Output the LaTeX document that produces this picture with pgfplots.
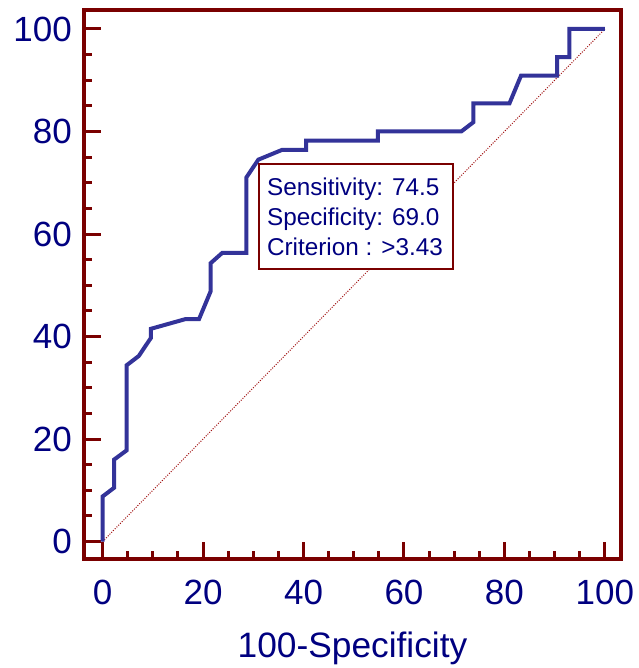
\documentclass[border=0pt]{standalone}
\usepackage{pgfplots}
\pgfplotsset{compat=1.18}
\usepackage{fontspec}
\setmainfont{Liberation Sans}
\definecolor{axred}{HTML}{7A0000}
\definecolor{dotred}{HTML}{A01010}
\definecolor{curveblue}{HTML}{333399}
\definecolor{navytext}{HTML}{000080}
\begin{document}
\begin{tikzpicture}
\begin{axis}[
  at={(0,0)}, anchor=south west,
  scale only axis, width=537pt, height=549pt,
  xmin=-3.7, xmax=103.2, ymin=-3.4, ymax=103.7,
  xtick={0,20,...,100}, ytick={0,20,...,100},
  minor tick num=3,
  tick pos=left, tick align=inside,
  major tick length=17pt, minor tick length=8pt,
  axis line style={axred, line width=4pt},
  tick style={axred, line width=3pt},
  /pgf/number format/assume math mode=true,
  ticklabel style={font=\fontsize{35}{40}\selectfont, text=navytext, inner sep=0pt},
  xticklabel style={anchor=north, yshift=-21pt},
  yticklabel style={anchor=east, xshift=-12pt},
  xlabel={100-Specificity},
  every axis x label/.style={at={(axis description cs:0.5,0)}, anchor=north,
    inner sep=0pt, yshift=-73pt, font=\fontsize{35.3}{40}\selectfont, text=navytext},
  clip=false,
]
\addplot[dotred, dash pattern=on 1pt off 1.5pt, line width=1pt] coordinates {(0,0) (100,100)};
\addplot[curveblue, line width=4pt] coordinates {
(0,0) (0,8.8) (2.3,10.5) (2.3,16.0) (4.8,17.8) (4.8,34.4) (7.2,36.2)
(9.6,39.7) (9.6,41.5) (16.5,43.4) (19.2,43.4) (21.5,48.8) (21.5,54.3)
(23.8,56.3) (28.6,56.3) (28.6,71.0) (31.0,74.5) (35.7,76.4) (40.5,76.4)
(40.5,78.2) (54.8,78.2) (54.8,80.0) (71.4,80.0) (73.8,81.8) (73.8,85.5)
(81.0,85.5) (83.3,90.9) (90.5,90.9) (90.5,94.5) (92.9,94.5) (92.9,100)
(100,100)
};
\node[draw=axred, line width=1.5pt, fill=white, anchor=north west,
  text=navytext, font=\fontsize{24.3}{30}\selectfont, align=left,
  inner xsep=8pt, inner ysep=13.5pt] at (axis cs:31.0,73.8)
  {Sensitivity: 74.5\\Specificity: 69.0\\Criterion : >3.43\hspace*{2pt}};
\end{axis}
\path (-84pt,-109pt) rectangle (554pt,559pt);
\end{tikzpicture}
\end{document}
